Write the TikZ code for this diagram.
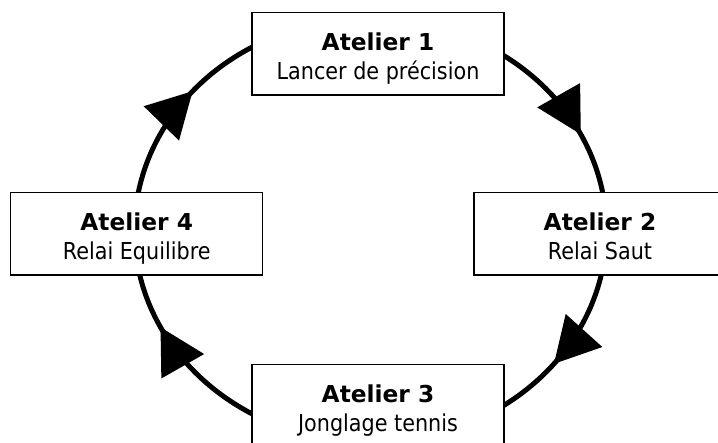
\documentclass[tikz,border=0pt]{standalone}
\usepackage{fontspec}
\setmainfont{DejaVu Sans}
\newfontfamily\subfont{DejaVu Sans}[FakeStretch=0.89]
\usetikzlibrary{arrows.meta,decorations.markings,backgrounds,calc}

\begin{document}
\begin{tikzpicture}[x=1pt,y=1pt,
  station/.style={draw, line width=1.5pt, fill=white,
    minimum width=252pt, minimum height=82.5pt, inner sep=0pt},
  title/.style={anchor=base, inner sep=0pt,
    font=\fontsize{23.3}{28}\selectfont\bfseries},
  sub/.style={anchor=base, inner sep=0pt,
    font=\subfont\fontsize{23.3}{28}\selectfont},
  ring/.style={line width=5pt},
  head/.style={postaction={decorate}, decoration={markings,
    mark=at position #1 with {\arrow{Triangle[length=45pt,width=48pt]}}}}
]
\useasboundingbox (0,0) rectangle (718,-443);
\clip (0,0) rectangle (718,-443);

% the four stations
\node[station] (s1) at (378,-54) {};
\node[station] (s2) at (600,-233.85) {};
\node[station] (s3) at (378,-406) {};
\node[station] (s4) at (136.7,-233.85) {};

\node[title] (t1) at ($(s1.center)+(0,3.3)$) {Atelier 1};
\node[sub]   (d1) at ($(s1.center)+(0,-26)$) {Lancer de précision};
\node[title] (t2) at ($(s2.center)+(0,3.3)$) {Atelier 2};
\node[sub]   (d2) at ($(s2.center)+(0,-26)$) {Relai Saut};
\node[title] (t3) at ($(s3.center)+(0,3.3)$) {Atelier 3};
\node[sub]   (d3) at ($(s3.center)+(0,-26)$) {Jonglage tennis};
\node[title] (t4) at ($(s4.center)+(0,3.3)$) {Atelier 4};
\node[sub]   (d4) at ($(s4.center)+(0,-26)$) {Relai Equilibre};

% rotation ring, drawn behind the stations
\coordinate (ctr) at (370.5,-230.5);
\coordinate (a12) at ($(ctr)+(57.5:236pt and 212pt)$);
\coordinate (a23) at ($(ctr)+(-10.1:236pt and 212pt)$);
\coordinate (a34) at ($(ctr)+(-118:236pt and 212pt)$);
\coordinate (a41) at ($(ctr)+(171.7:236pt and 212pt)$);
\begin{scope}[on background layer]
  \draw[ring, head=0.63] (a12) arc[start angle=57.5, end angle=8.3,
    x radius=236pt, y radius=212pt];
  \draw[ring, head=0.60] (a23) arc[start angle=-10.1, end angle=-57.5,
    x radius=236pt, y radius=212pt];
  \draw[ring, head=0.68] (a34) arc[start angle=-118, end angle=-170,
    x radius=236pt, y radius=212pt];
  \draw[ring, head=0.60] (a41) arc[start angle=171.7, end angle=118,
    x radius=236pt, y radius=212pt];
\end{scope}
\end{tikzpicture}
\end{document}
